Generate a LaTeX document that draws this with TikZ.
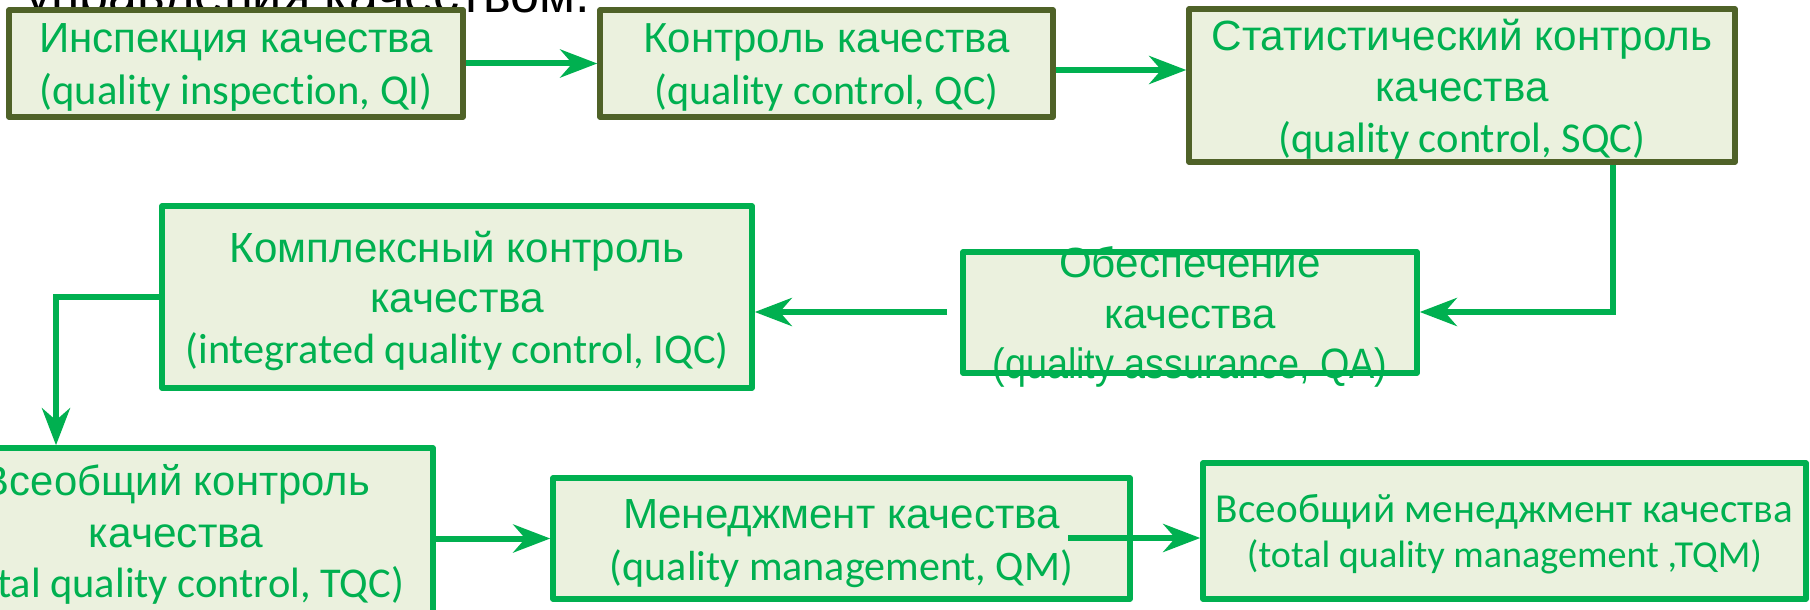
\documentclass[tikz,border=0pt]{standalone}
\usepackage{fontspec}
\usepackage{graphicx}
\usetikzlibrary{arrows.meta}

\newfontfamily\arialf{Liberation Sans}
\newfontfamily\calibf[Ligatures={NoCommon}]{Carlito}

\definecolor{qgreen}{RGB}{0,176,80}
\definecolor{boxolive}{RGB}{79,98,40}
\definecolor{boxfill}{RGB}{235,241,222}

% one line of text, set at 42.5pt and scaled to a given width
\newcommand\linefit[3]{\resizebox{#1pt}{!}{#2\fontsize{42.5}{50}\selectfont #3}}
% same, but keeping the natural height (narrowed only)
\newcommand\linenarrow[3]{\resizebox{#1pt}{\height}{#2\fontsize{42.5}{50}\selectfont #3}}

\tikzset{
  stagebox/.style={draw=qgreen, fill=boxfill, line width=5.5pt, line join=round,
                   rectangle, inner sep=0pt},
  oldbox/.style={stagebox, draw=boxolive},
  txt/.style={anchor=base, inner sep=0pt, text=qgreen},
  arr/.style={draw=qgreen, line width=6pt,
              -{Stealth[length=37pt, width=28pt, inset=12pt]}},
}

\begin{document}
\begin{tikzpicture}[x=1pt, y=-1pt]
\fill[white] (0,0) rectangle (1810,610);
\clip (0,0) rectangle (1810,610);

% heading line, mostly cut off at the top
\node[anchor=base west, inner sep=0pt, text=black] (head) at (25,13)
  {\resizebox{565pt}{!}{\arialf\fontsize{52}{60}\selectfont управления качеством.}};

% stage boxes
\node[oldbox, minimum width=454pt, minimum height=107pt] (QI)  at (236,63.5) {};
\node[oldbox, minimum width=453pt, minimum height=107pt] (QC)  at (826.5,63.5) {};
\node[oldbox, minimum width=546pt, minimum height=153pt] (SQC) at (1462,85.5) {};
\node[stagebox, minimum width=454pt, minimum height=121pt] (QA)  at (1190,312.5) {};
\node[stagebox, minimum width=590pt, minimum height=182pt] (IQC) at (457,297) {};
\node[stagebox, minimum width=514pt, minimum height=172pt] (TQC) at (176,534) {};
\node[stagebox, minimum width=577pt, minimum height=121pt] (QM)  at (841.5,538.5) {};
\node[stagebox, minimum width=603pt, minimum height=136pt] (TQM) at (1504.5,531) {};

% box texts
\node[txt] (qi1) at (236,53)  {\linefit{394}{\arialf}{Инспекция качества}};
\node[txt] (qi2) at (236,104) {\linefit{393}{\calibf}{(quality inspection, QI)}};

\node[txt] (qc1) at (826.5,53)  {\linefit{366}{\arialf}{Контроль качества}};
\node[txt] (qc2) at (826.5,104) {\linefit{344}{\calibf}{(quality control, QC)}};

\node[txt] (sqc1) at (1462,50)  {\linefit{501}{\arialf}{Статистический контроль}};
\node[txt] (sqc2) at (1462,102) {\linefit{173}{\arialf}{качества}};
\node[txt] (sqc3) at (1462,152) {\linefit{367}{\calibf}{(quality control, SQC)}};

\node[txt] (qa1) at (1190,277) {\linefit{262}{\arialf}{Обеспечение}};
\node[txt] (qa2) at (1190,328) {\linefit{172}{\arialf}{качества}};
\node[txt] (qa3) at (1190,378) {\linenarrow{395}{\arialf}{(quality assurance, QA)}};

\node[txt] (iqc1) at (457,262) {\linefit{454}{\arialf}{Комплексный контроль}};
\node[txt] (iqc2) at (457,312) {\linefit{174}{\arialf}{качества}};
\node[txt] (iqc3) at (457,363) {\linefit{543}{\calibf}{(integrated quality control, IQC)}};

\node[txt] (tqc1) at (176,495) {\linefit{388}{\arialf}{Всеобщий контроль}};
\node[txt] (tqc2) at (176,547) {\linefit{174}{\arialf}{качества}};
\node[txt] (tqc3) at (176,597) {\linefit{456}{\calibf}{(total quality control, TQC)}};

\node[txt] (qm1) at (841.5,528) {\linefit{437}{\arialf}{Менеджмент качества}};
\node[txt] (qm2) at (841.5,580) {\linefit{463}{\calibf}{(quality management, QM)}};

\node[txt] (tqm1) at (1504.5,522) {\linefit{577}{\calibf}{Всеобщий менеджмент качества}};
\node[txt] (tqm2) at (1504.5,567) {\linefit{515}{\calibf}{(total quality management ,TQM)}};

% bends and loose ends of the connectors
\coordinate (bendA) at (1613,312);
\coordinate (startQA) at (947,312);
\coordinate (bendB) at (56,297);
\coordinate (startQM) at (1068,538);

% connectors
\draw[arr] (QI.east) -- (QC.west);
\draw[arr] (QC.east |- 0,70) -- (SQC.west |- 0,70);
\draw[arr] (SQC.south -| bendA) |- (QA.east |- bendA);
\draw[arr] (startQA) -- (IQC.east |- startQA);
\draw[arr] (IQC.west |- bendB) -| (TQC.north -| bendB);
\draw[arr] (TQC.east |- QM.west) -- (QM.west);
\draw[arr] (startQM) -- (TQM.west |- startQM);
\end{tikzpicture}
\end{document}
